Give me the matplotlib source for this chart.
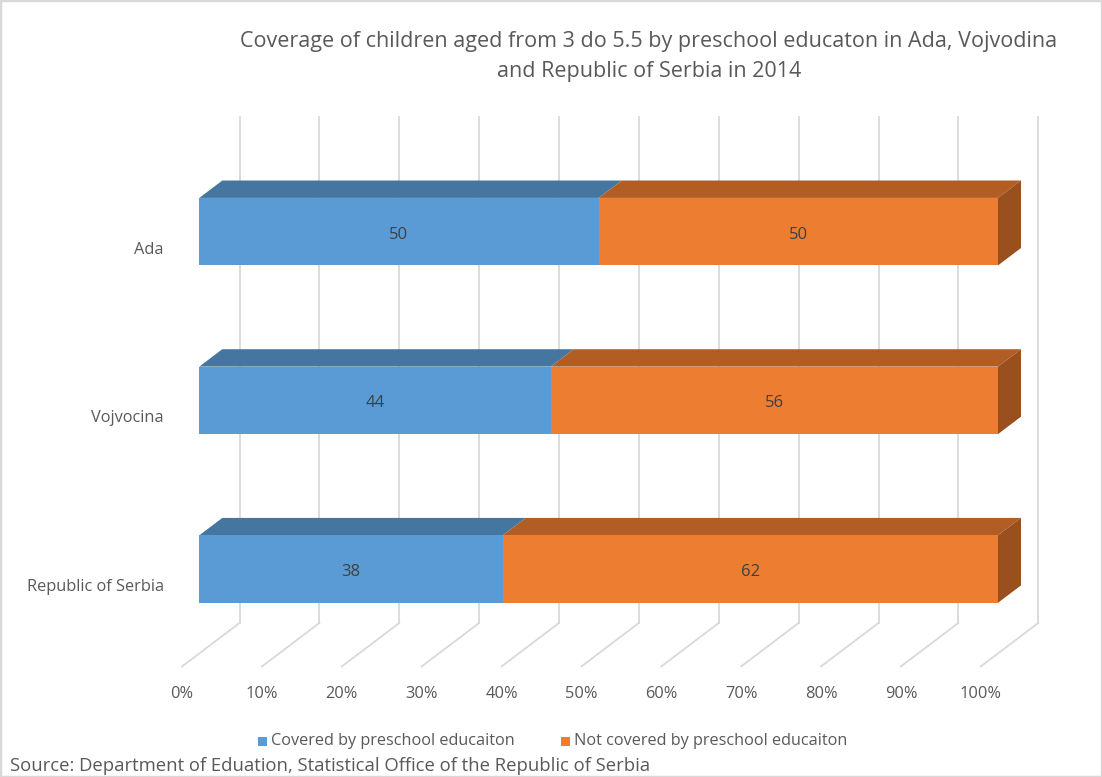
import matplotlib
matplotlib.use("Agg")
import matplotlib.pyplot as plt
from matplotlib.patches import Polygon, Rectangle

plt.rcParams['font.family'] = ['Open Sans', 'DejaVu Sans']

# Data (bottom to top, as drawn)
categories = ["Republic of Serbia", "Vojvocina", "Ada"]
covered = [38, 44, 50]
notCovered = [62, 56, 50]
seriesNames = ["Covered by preschool educaiton", "Not covered by preschool educaiton"]
xTicks = [0, 10, 20, 30, 40, 50, 60, 70, 80, 90, 100]
titleLines = ["Coverage of children aged from 3 do 5.5 by preschool educaton in Ada, Vojvodina",
              "and Republic of Serbia in 2014"]
source = "Source: Department of Eduation, Statistical Office of the Republic of Serbia"

# Styles
frontColors = ["#5B9BD5", "#ED7D31"]
topColors = ["#4576A0", "#B25D24"]
sideColors = ["#4A7BA6", "#99501E"]
gridColor = "#D9D9D9"
textColor = "#595959"

# Pixel layout of the fake 3d plot
W, H = 1102, 777
px0, pxUnit = 199.3, 7.987      # 0% at bar front, px per percent
py0, pyUnit = 653.4, 168.7      # floor at bar front, px per category
ddx, ddy = 23.0 / pxUnit, 17.4 / pyUnit   # bar depth in data units
barH = 0.4

fig = plt.figure(figsize=(W / 100, H / 100), dpi=100)
ax = fig.add_axes([0, 0, 1, 1])
ax.set_xlim(-px0 / pxUnit, (W - px0) / pxUnit)
ax.set_ylim((py0 - H) / pyUnit, py0 / pyUnit)
ax.axis("off")

# Wall and floor gridlines
for t in xTicks:
    ax.plot([t + 1.75 * ddx, t + 1.75 * ddx], [1.75 * ddy, len(categories) + 1.75 * ddy],
            color=gridColor, lw=1.3, zorder=1)
    ax.plot([t - 0.75 * ddx, t + 1.75 * ddx], [-0.75 * ddy, 1.75 * ddy],
            color=gridColor, lw=1.3, zorder=1)
    ax.text(t - 0.75 * ddx, -0.75 * ddy - 28 / pyUnit, f"{t}%", ha="center", va="center",
            fontsize=11.8, color=textColor)

# Bars
for i, cat in enumerate(categories):
    yc = i + 0.5
    left = 0
    for s, vals in enumerate([covered, notCovered]):
        v = vals[i]
        ax.barh(yc, v, left=left, height=barH, color=frontColors[s], zorder=3)
        top = Polygon([(left, yc + barH / 2), (left + v, yc + barH / 2),
                       (left + v + ddx, yc + barH / 2 + ddy), (left + ddx, yc + barH / 2 + ddy)],
                      closed=True, facecolor=topColors[s], edgecolor="none", zorder=2)
        ax.add_patch(top)
        ax.text(left + v / 2, yc - 3 / pyUnit, f"{v}", ha="center", va="center", fontsize=12,
                color="#404040", zorder=4)
        left += v
    side = Polygon([(left, yc - barH / 2), (left, yc + barH / 2),
                    (left + ddx, yc + barH / 2 + ddy), (left + ddx, yc - barH / 2 + ddy)],
                   closed=True, facecolor=sideColors[1], edgecolor="none", zorder=2)
    ax.add_patch(side)
    ax.text(-4.42, yc - 0.75 * ddy - 5 / pyUnit, cat, ha="right", va="center",
            fontsize=11.8, color=textColor)

# Title (two centred lines)
for k, line in enumerate(titleLines):
    fig.text(649 / W, 1 - (41 + 31 * k) / H, line, ha="center", va="center",
             fontsize=15.5, color=textColor)

# Legend
legX = [258, 561]
for s, name in enumerate(seriesNames):
    fig.patches.append(Rectangle((legX[s] / W, 1 - 746 / H), 9 / W, 9 / H,
                                 transform=fig.transFigure, facecolor=frontColors[s],
                                 edgecolor="none"))
    fig.text((legX[s] + 13) / W, 1 - 741 / H, name, ha="left", va="center",
             fontsize=11.7, color=textColor)

# Source
fig.text(10 / W, 1 - 766 / H, source, ha="left", va="center", fontsize=13.3, color=textColor)

# Chart border
fig.patches.append(Rectangle((0, 0), 1, 1, transform=fig.transFigure, fill=False,
                             edgecolor=gridColor, lw=2.5))

fig.savefig("out.png", dpi=100)
